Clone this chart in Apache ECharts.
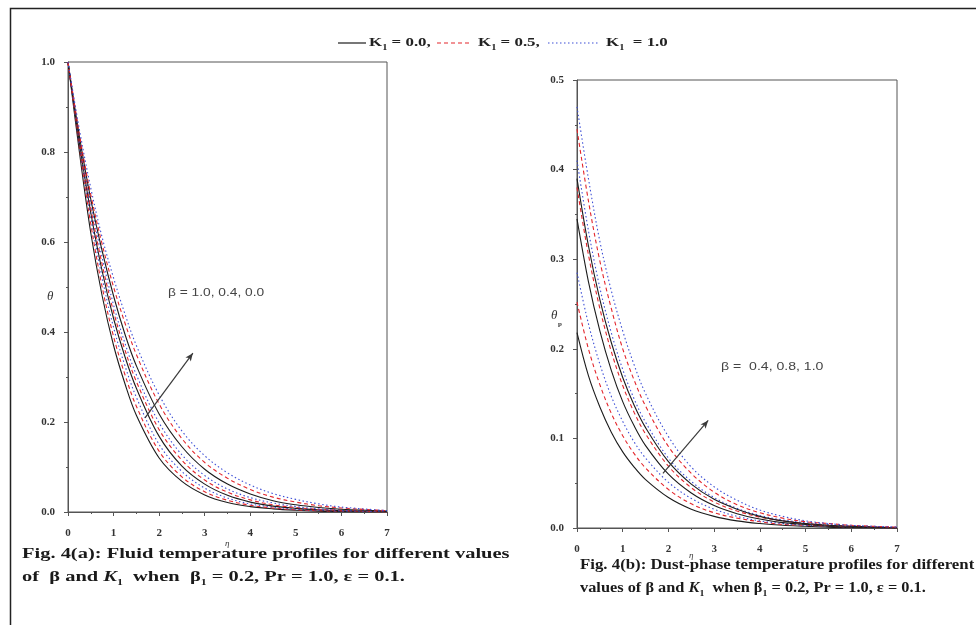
<!DOCTYPE html>
<html>
<head>
<meta charset="utf-8">
<script src="https://cdn.jsdelivr.net/npm/echarts@6.0.0/dist/echarts.min.js"></script>
<style>
  html, body { margin: 0; padding: 0; background: #fff; }
  #chart { width: 976px; height: 625px; }
</style>
</head>
<body>
<div id="chart"></div>
<script>
// similarity variable eta, shared by every profile
const etaPoints = [0, 0.25, 0.5, 0.75, 1, 1.25, 1.5, 2, 2.5, 3, 3.5, 4, 4.5, 5, 5.5, 6, 7];

// Fig. 4(a): fluid temperature theta(eta)
const fluidB10K00 = [1, 0.80, 0.62, 0.48, 0.37, 0.285, 0.215, 0.12, 0.068, 0.038, 0.021, 0.012, 0.007, 0.004, 0.002, 0.001, 0];
const fluidB10K05 = [1, 0.81, 0.64, 0.50, 0.39, 0.305, 0.235, 0.135, 0.078, 0.045, 0.026, 0.015, 0.009, 0.005, 0.003, 0.002, 0];
const fluidB10K10 = [1, 0.815, 0.655, 0.52, 0.41, 0.325, 0.255, 0.15, 0.09, 0.053, 0.031, 0.018, 0.011, 0.006, 0.004, 0.002, 0.001];
const fluidB04K00 = [1, 0.82, 0.665, 0.535, 0.43, 0.345, 0.275, 0.168, 0.102, 0.062, 0.037, 0.022, 0.013, 0.008, 0.005, 0.003, 0.001];
const fluidB04K05 = [1, 0.825, 0.675, 0.55, 0.445, 0.36, 0.29, 0.183, 0.115, 0.071, 0.044, 0.027, 0.016, 0.010, 0.006, 0.004, 0.001];
const fluidB04K10 = [1, 0.83, 0.685, 0.565, 0.46, 0.375, 0.305, 0.198, 0.127, 0.081, 0.051, 0.032, 0.02, 0.012, 0.007, 0.004, 0.001];
const fluidB00K00 = [1, 0.835, 0.695, 0.58, 0.48, 0.395, 0.325, 0.218, 0.145, 0.095, 0.062, 0.04, 0.025, 0.016, 0.01, 0.006, 0.002];
const fluidB00K05 = [1, 0.84, 0.705, 0.595, 0.50, 0.42, 0.35, 0.24, 0.163, 0.11, 0.075, 0.05, 0.033, 0.022, 0.014, 0.009, 0.003];
const fluidB00K10 = [1, 0.85, 0.72, 0.61, 0.52, 0.44, 0.37, 0.26, 0.18, 0.125, 0.087, 0.06, 0.041, 0.028, 0.018, 0.011, 0.003];

// Fig. 4(b): dust-phase temperature theta_p(eta)
const dustB04K00 = [0.218, 0.17, 0.135, 0.107, 0.085, 0.068, 0.054, 0.034, 0.021, 0.013, 0.008, 0.005, 0.003, 0.002, 0.001, 0.0005, 0];
const dustB04K05 = [0.252, 0.20, 0.16, 0.128, 0.103, 0.083, 0.067, 0.043, 0.027, 0.017, 0.011, 0.007, 0.004, 0.003, 0.002, 0.001, 0];
const dustB04K10 = [0.285, 0.228, 0.183, 0.147, 0.119, 0.096, 0.078, 0.051, 0.033, 0.021, 0.013, 0.008, 0.005, 0.003, 0.002, 0.001, 0];
const dustB08K00 = [0.345, 0.275, 0.22, 0.176, 0.141, 0.114, 0.092, 0.06, 0.039, 0.025, 0.016, 0.010, 0.006, 0.004, 0.002, 0.001, 0];
const dustB08K05 = [0.38, 0.305, 0.245, 0.197, 0.159, 0.129, 0.105, 0.069, 0.045, 0.029, 0.019, 0.012, 0.008, 0.005, 0.003, 0.002, 0];
const dustB08K10 = [0.41, 0.332, 0.268, 0.218, 0.177, 0.144, 0.118, 0.078, 0.052, 0.034, 0.022, 0.014, 0.009, 0.006, 0.004, 0.002, 0.001];
const dustB10K00 = [0.39, 0.315, 0.255, 0.207, 0.168, 0.137, 0.112, 0.074, 0.049, 0.032, 0.021, 0.013, 0.008, 0.005, 0.003, 0.002, 0];
const dustB10K05 = [0.445, 0.365, 0.298, 0.245, 0.2, 0.165, 0.136, 0.091, 0.061, 0.040, 0.026, 0.017, 0.011, 0.007, 0.005, 0.003, 0.001];
const dustB10K10 = [0.47, 0.39, 0.32, 0.265, 0.22, 0.182, 0.15, 0.102, 0.068, 0.046, 0.031, 0.02, 0.013, 0.008, 0.005, 0.003, 0.001];

// legend entries (K1 values) and their line looks
const kValues = ['0.0', '0.5', '1.0'];
const kColors = ['#1c1c1c', '#e3262c', '#3d4fd6'];
const kDash = ['solid', [4, 3], [1.5, 2.5]];

const fluidSets = [
  [fluidB10K00, 0], [fluidB10K05, 1], [fluidB10K10, 2],
  [fluidB04K00, 0], [fluidB04K05, 1], [fluidB04K10, 2],
  [fluidB00K00, 0], [fluidB00K05, 1], [fluidB00K10, 2]
];
const dustSets = [
  [dustB04K00, 0], [dustB04K05, 1], [dustB04K10, 2],
  [dustB08K00, 0], [dustB08K05, 1], [dustB08K10, 2],
  [dustB10K00, 0], [dustB10K05, 1], [dustB10K10, 2]
];

const serif = '"Liberation Serif", "Times New Roman", serif';
const sans = '"Liberation Sans", Arial, sans-serif';
const tickFont = { fontFamily: serif, fontWeight: 'bold', fontSize: 11, color: '#333' };

function profileSeries(sets, gridIdx) {
  return sets.map(([vals, k]) => ({
    type: 'line',
    name: 'K1 = ' + kValues[k],
    xAxisIndex: gridIdx,
    yAxisIndex: gridIdx,
    data: etaPoints.map((e, i) => [e, vals[i]]),
    showSymbol: false,
    smooth: 0.35,
    silent: true,
    lineStyle: { color: kColors[k], width: 1.1, type: kDash[k] }
  }));
}

function arrowSeries(gridIdx, from, to) {
  return {
    type: 'line',
    xAxisIndex: gridIdx,
    yAxisIndex: gridIdx,
    data: [],
    silent: true,
    markLine: {
      silent: true,
      symbol: ['none', 'arrow'],
      symbolSize: [5, 8],
      label: { show: false },
      lineStyle: { color: '#3a3a3a', width: 1.2, type: 'solid' },
      data: [[{ coord: from }, { coord: to }]]
    }
  };
}

function xAxisFor(gridIdx) {
  return {
    type: 'value', gridIndex: gridIdx, min: 0, max: 7, interval: 1,
    axisLine: { show: true, lineStyle: { color: '#555', width: 1 } },
    axisTick: { show: true, inside: false, length: 4, lineStyle: { color: '#555' } },
    minorTick: { show: true, splitNumber: 2, length: 2, lineStyle: { color: '#555' } },
    splitLine: { show: false },
    axisLabel: Object.assign({ margin: 16 }, tickFont)
  };
}

function yAxisFor(gridIdx, max, step) {
  return {
    type: 'value', gridIndex: gridIdx, min: 0, max: max, interval: step,
    axisLine: { show: true, lineStyle: { color: '#555', width: 1 } },
    axisTick: { show: true, inside: false, length: 4, lineStyle: { color: '#555' } },
    minorTick: { show: true, splitNumber: 2, length: 2, lineStyle: { color: '#555' } },
    splitLine: { show: false },
    axisLabel: Object.assign({ margin: 13, formatter: v => v.toFixed(1) }, tickFont)
  };
}

function makeRich(size, color) {
  return {
    m: { fontFamily: serif, fontWeight: 'bold', fontSize: size, lineHeight: size + 5, fill: color },
    i: { fontFamily: serif, fontWeight: 'bold', fontStyle: 'italic', fontSize: size, lineHeight: size + 5, fill: color },
    s: { fontFamily: serif, fontWeight: 'bold', fontSize: Math.round(size * 0.6), lineHeight: Math.round(size * 0.6), verticalAlign: 'bottom', fill: color }
  };
}
const legendRich = makeRich(13, '#222');
const capRichA = makeRich(15.5, '#1a1a1a');
const capRichB = makeRich(15, '#1a1a1a');

function legendItem(x0, x1, k, tx) {
  return [
    { type: 'line', shape: { x1: x0, y1: 43, x2: x1, y2: 43 },
      style: { stroke: kColors[k], lineWidth: 1.2, lineDash: kDash[k] === 'solid' ? null : kDash[k] } },
    { type: 'text', x: tx, y: 43, scaleX: 1.3,
      style: { text: '{m|K}{s|1}{m| ' + (k === 2 ? ' ' : '') + '= ' + kValues[k] + (k < 2 ? ',' : '') + '}', rich: legendRich, verticalAlign: 'middle' } }
  ];
}

const graphics = [
  { type: 'rect', shape: { x: 10.5, y: 8.5, width: 980, height: 640 },
    style: { fill: 'none', stroke: '#222', lineWidth: 1.5 }, silent: true },
  ...legendItem(338, 366, 0, 369),
  ...legendItem(437, 472, 1, 478),
  ...legendItem(548, 600, 2, 606),
  // axis titles
  { type: 'text', x: 47, y: 297, style: { text: 'θ', font: 'italic 13px ' + serif, fill: '#333', verticalAlign: 'middle' } },
  { type: 'text', x: 225, y: 544, style: { text: 'η', font: 'italic 9px ' + serif, fill: '#333', verticalAlign: 'middle' } },
  { type: 'text', x: 551, y: 316, style: { text: 'θ', font: 'italic 13px ' + serif, fill: '#333', verticalAlign: 'middle' } },
  { type: 'text', x: 558, y: 324, style: { text: 'p', font: 'bold 7px ' + serif, fill: '#333', verticalAlign: 'middle' } },
  { type: 'text', x: 689, y: 556, style: { text: 'η', font: 'italic 9px ' + serif, fill: '#333', verticalAlign: 'middle' } },
  // parameter notes
  { type: 'text', x: 168, y: 293, scaleX: 1.25, style: { text: 'β = 1.0, 0.4, 0.0', font: '11px ' + sans, fill: '#444', verticalAlign: 'middle' } },
  { type: 'text', x: 721, y: 367, scaleX: 1.28, style: { text: 'β =  0.4, 0.8, 1.0', font: '11px ' + sans, fill: '#444', verticalAlign: 'middle' } },
  // captions
  { type: 'text', x: 22, y: 554, scaleX: 1.32, style: { text: '{m|Fig. 4(a): Fluid temperature profiles for different values}', rich: capRichA, verticalAlign: 'middle' } },
  { type: 'text', x: 22, y: 577, scaleX: 1.32, style: { text: '{m|of  β and }{i|K}{s|1}{m|  when  β}{s|1}{m| = 0.2, Pr = 1.0, ε = 0.1.}', rich: capRichA, verticalAlign: 'middle' } },
  { type: 'text', x: 580, y: 565, scaleX: 1.12, style: { text: '{m|Fig. 4(b): Dust-phase temperature profiles for different}', rich: capRichB, verticalAlign: 'middle' } },
  { type: 'text', x: 580, y: 588, scaleX: 1.09, style: { text: '{m|values of β and }{i|K}{s|1}{m|  when β}{s|1}{m| = 0.2, Pr = 1.0, ε = 0.1.}', rich: capRichB, verticalAlign: 'middle' } }
];

const chart = echarts.init(document.getElementById('chart'), null, { renderer: 'canvas' });
chart.setOption({
  animation: false,
  backgroundColor: '#fff',
  grid: [
    { left: 68, top: 62, width: 319, height: 450, show: true, borderColor: '#555', borderWidth: 1, backgroundColor: 'transparent' },
    { left: 577, top: 80, width: 320, height: 448, show: true, borderColor: '#555', borderWidth: 1, backgroundColor: 'transparent' }
  ],
  xAxis: [xAxisFor(0), xAxisFor(1)],
  yAxis: [yAxisFor(0, 1.0, 0.2), yAxisFor(1, 0.5, 0.1)],
  series: [
    ...profileSeries(fluidSets, 0),
    ...profileSeries(dustSets, 1),
    arrowSeries(0, [1.69, 0.209], [2.74, 0.353]),
    arrowSeries(1, [1.88, 0.061], [2.87, 0.12])
  ],
  graphic: graphics
});
</script>
</body>
</html>
